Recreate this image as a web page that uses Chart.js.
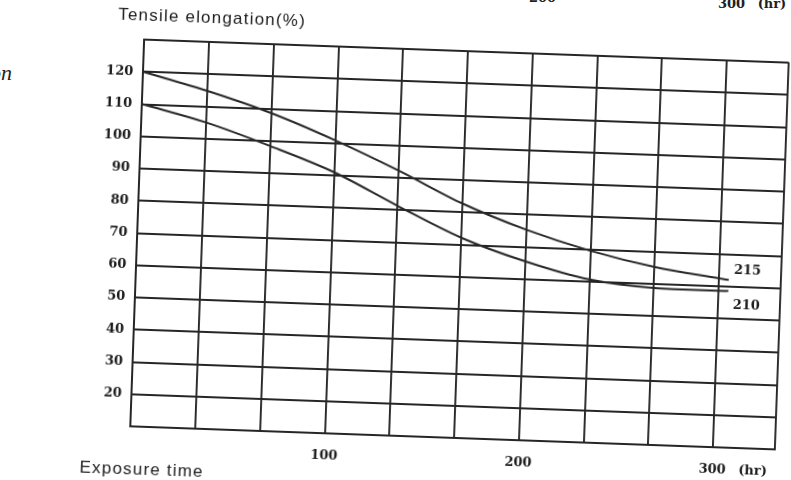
<!DOCTYPE html>
<html>
<head>
<meta charset="utf-8">
<title>Tensile elongation vs exposure time</title>
<script src="https://cdn.jsdelivr.net/npm/chart.js@4.4.1/dist/chart.umd.min.js"></script>
<style>
  html, body { margin: 0; padding: 0; background: #fff; overflow: hidden; width: 791px; height: 480px; }
  /* the printed sheet sits a little askew on the page */
  #sheet {
    position: absolute; left: -30px; top: -30px; width: 851px; height: 540px;
    transform-origin: 489.75px 274.5px; transform: rotate(2.05deg);
  }
  .scrap { position: absolute; color: #1f1f1f; white-space: pre; }
  .num { font: bold 13px "DejaVu Serif", serif; line-height: 13px; word-spacing: 8px; }
</style>
</head>
<body>
<!-- fragments of the neighbouring figure at the page edges -->
<span class="scrap num" style="left:529px; top:-9px;">200</span>
<span class="scrap num" style="left:718px; top:-3px;">300 (hr)</span>
<span class="scrap" style="left:-40px; width:52px; text-align:right; top:62px; font:italic 22px 'Liberation Serif', 'DejaVu Serif', serif; line-height:22px;">on</span>

<div id="sheet"><canvas id="chart" width="851" height="540"></canvas></div>

<script>
// exposure time (hr) at which each curve was read
const hours    = [0, 33.3, 66.7, 100, 133.3, 166.7, 200, 233.3, 266.7, 300, 305];
// tensile elongation (%) of the two grades
const grade215 = [120, 114.8, 108.6, 100.9, 92.2, 82.7, 75.3, 69.5, 65.2, 62.4, 62.0];
const grade210 = [110, 105.0, 98.4, 91.0, 81.3, 72.1, 65.5, 60.6, 58.7, 58.5, 58.6];
const seriesNames = ['215', '210'];

// axes
const xGridValues = [0, 33.33, 66.67, 100, 133.33, 166.67, 200, 233.33, 266.67, 300, 332];
const xTickValues = [100, 200, 300];
const xTickLabels = ['100', '200', '300 (hr)'];
const yTickValues = [20, 30, 40, 50, 60, 70, 80, 90, 100, 110, 120];
const yTitle = 'Tensile elongation(%)';
const xTitle = 'Exposure time';

const INK = '#1c1c1c';
const RULE = '#262626';
const NUM_FONT = 'bold 13px "DejaVu Serif", serif';
const CAPTION_FONT = '17px "Liberation Sans", Arial, sans-serif';

// where each grade's name is printed, in axis units
const nameSpots = [{ x: 314.5, y: 65 }, { x: 314.5, y: 54 }];

const toPoints = (ys) => ys.map((v, i) => ({ x: hours[i], y: v }));

const captions = {
  id: 'captions',
  afterDraw(chart) {
    const { ctx, chartArea: a, scales: { x, y } } = chart;
    ctx.save();
    ctx.fillStyle = INK;
    ctx.textBaseline = 'middle';

    ctx.font = CAPTION_FONT;
    ctx.letterSpacing = '1.2px';
    ctx.textAlign = 'left';
    ctx.fillText(yTitle, a.left - 27, a.top - 24);
    ctx.fillText(xTitle, a.left - 49.5, a.bottom + 43);
    ctx.letterSpacing = '0px';

    // hour labels: the number sits centred under its grid line
    ctx.font = NUM_FONT;
    ctx.wordSpacing = '8px';
    xTickValues.forEach((v, i) => {
      const px = x.getPixelForValue(v);
      const w = ctx.measureText(String(v)).width;
      ctx.fillText(xTickLabels[i], px - w / 2, a.bottom + 23);
    });
    ctx.wordSpacing = '0px';

    // grade names beside the line ends
    ctx.textAlign = 'center';
    seriesNames.forEach((name, i) => {
      ctx.fillText(name, x.getPixelForValue(nameSpots[i].x), y.getPixelForValue(nameSpots[i].y));
    });
    ctx.restore();
  }
};

new Chart(document.getElementById('chart'), {
  type: 'line',
  data: {
    datasets: [
      { label: seriesNames[0], data: toPoints(grade215) },
      { label: seriesNames[1], data: toPoints(grade210) }
    ]
  },
  options: {
    responsive: false,
    animation: false,
    devicePixelRatio: 1,
    layout: { padding: { left: 107.25, right: 38.75, top: 81, bottom: 72 } },
    elements: {
      point: { radius: 0, hoverRadius: 0 },
      line: { borderColor: RULE, borderWidth: 2, cubicInterpolationMode: 'monotone', fill: false }
    },
    plugins: { legend: { display: false }, tooltip: { enabled: false }, title: { display: false } },
    scales: {
      x: {
        type: 'linear',
        min: 0,
        max: 332,
        afterBuildTicks: (s) => { s.ticks = xGridValues.map(v => ({ value: v })); },
        afterFit: (s) => { s.height = 0; },
        ticks: { display: false },
        grid: { color: RULE, lineWidth: 1.9, drawTicks: false },
        border: { display: true, color: RULE, width: 2 }
      },
      y: {
        type: 'linear',
        min: 10,
        max: 130,
        afterFit: (s) => { s.width = 60; },
        ticks: {
          stepSize: 10,
          padding: 10,
          color: INK,
          font: { family: '"DejaVu Serif", serif', size: 13, weight: 'bold' },
          callback: (v) => (yTickValues.includes(v) ? String(v) : '')
        },
        grid: { color: RULE, lineWidth: 1.9, drawTicks: false },
        border: { display: true, color: RULE, width: 2 }
      }
    }
  },
  plugins: [captions]
});
</script>
</body>
</html>
